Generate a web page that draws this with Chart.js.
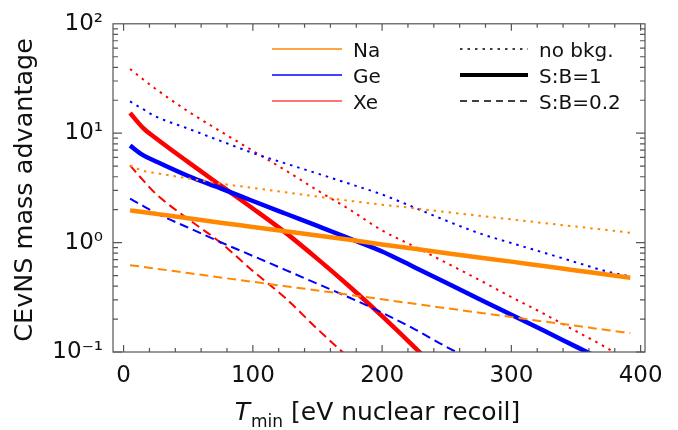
<!DOCTYPE html>
<html>
<head>
<meta charset="utf-8">
<script src="https://cdn.jsdelivr.net/npm/chart.js@4.4.1/dist/chart.umd.min.js"></script>
<style>
  html, body { margin: 0; padding: 0; background: #fff; }
  #wrap { width: 678px; height: 430px; }
</style>
</head>
<body>
<div id="wrap"><canvas id="cevns"></canvas></div>
<script>
// recoil threshold T_min [eV]
const tMin = [5, 15, 25, 50, 75, 100, 125, 150, 175, 200, 225, 250, 275, 300, 325, 350, 375, 392];

// mass advantage
const naNoBkg = [5.08, 4.53, 4.32, 3.86, 3.46, 3.16, 2.89, 2.63, 2.41, 2.22, 2.06, 1.9, 1.76, 1.63, 1.51, 1.4, 1.3, 1.23];
const naSB1   = [1.97, 1.9, 1.83, 1.67, 1.52, 1.39, 1.27, 1.16, 1.06, 0.96, 0.88, 0.80, 0.73, 0.67, 0.61, 0.557, 0.508, 0.478];
const naSB02  = [0.622, 0.6, 0.578, 0.527, 0.48, 0.438, 0.4, 0.365, 0.333, 0.303, 0.276, 0.251, 0.229, 0.209, 0.19, 0.174, 0.158, 0.149];

const geNoBkg = [19.5, 16.6, 14.2, 11.0, 8.5, 6.6, 5.3, 4.28, 3.44, 2.75, 2.09, 1.58, 1.22, 0.99, 0.81, 0.66, 0.54, 0.49];
const geSB1   = [7.7, 6.3, 5.52, 4.06, 3.13, 2.4, 1.845, 1.42, 1.09, 0.83, 0.596, 0.427, 0.305, 0.219, 0.157, 0.112, 0.08, null];
const geSB02  = [2.52, 2.17, 1.86, 1.37, 1.01, 0.755, 0.564, 0.42, 0.313, 0.229, 0.162, 0.111, 0.079, null, null, null, null, null];

const xeNoBkg = [38.6, 31.1, 25.3, 15.8, 10.4, 6.9, 4.6, 3.0, 2.0, 1.29, 0.92, 0.65, 0.457, 0.318, 0.224, 0.155, 0.107, 0.08];
const xeSB1   = [15.3, 11.2, 9.0, 5.44, 3.33, 2.05, 1.24, 0.71, 0.395, 0.213, 0.111, 0.056, null, null, null, null, null, null];
const xeSB02  = [5.08, 3.72, 2.79, 1.64, 1.0, 0.55, 0.313, 0.162, 0.087, null, null, null, null, null, null, null, null, null];

const xTicks = [0, 100, 200, 300, 400];
const yTicks = [0.1, 1, 10, 100];
const yTickLabels = ['10\u207B\u00B9', '10\u2070', '10\u00B9', '10\u00B2'];

const ORANGE = 'rgb(255,136,0)';
const BLUE = 'rgb(0,0,255)';
const RED = 'rgb(255,0,0)';
const DOT = [2.5, 5];
const DASH = [9, 5];
const FONT = "'DejaVu Sans', sans-serif";

function series(label, values, color, kind) {
  return {
    label: label,
    data: tMin.map((t, i) => ({ x: t, y: values[i] })),
    borderColor: color,
    borderWidth: kind === 'solid' ? 4.5 : 2,
    borderDash: kind === 'dot' ? DOT : (kind === 'dash' ? DASH : []),
    pointRadius: 0,
    fill: false,
    spanGaps: false,
    cubicInterpolationMode: 'monotone'
  };
}

// frame, inward ticks, axis titles and the two-column key
const decor = {
  id: 'decor',
  afterDraw(chart) {
    const { ctx, chartArea: { left, right, top, bottom }, scales: { x, y } } = chart;
    ctx.save();
    ctx.strokeStyle = '#555';
    ctx.lineWidth = 1.2;
    ctx.setLineDash([]);
    ctx.strokeRect(left, top, right - left, bottom - top);

    ctx.beginPath();
    for (let v = 0; v <= 400; v += 20) {
      const px = x.getPixelForValue(v);
      const len = v % 100 === 0 ? 7 : 4;
      ctx.moveTo(px, bottom); ctx.lineTo(px, bottom - len);
      ctx.moveTo(px, top); ctx.lineTo(px, top + len);
    }
    for (let d = -1; d <= 1; d++) {
      for (let m = 1; m <= 9; m++) {
        const py = y.getPixelForValue(m * Math.pow(10, d));
        const len = m === 1 ? 9 : 5;
        ctx.moveTo(left, py); ctx.lineTo(left + len, py);
        ctx.moveTo(right, py); ctx.lineTo(right - len, py);
      }
    }
    ctx.stroke();

    // axis titles
    ctx.fillStyle = '#111';
    ctx.textBaseline = 'alphabetic';
    ctx.textAlign = 'left';
    const big = '25px ' + FONT;
    const it = 'italic 25px ' + FONT;
    const sub = '17px ' + FONT;
    const rest = ' [eV nuclear recoil]';
    ctx.font = it; const wT = ctx.measureText('T').width;
    ctx.font = sub; const wS = ctx.measureText('min').width;
    ctx.font = big; const wR = ctx.measureText(rest).width;
    let tx = (left + right) / 2 - (wT + wS + wR) / 2 - 2;
    const ty = 420;
    ctx.font = it; ctx.fillText('T', tx, ty); tx += wT + 1;
    ctx.font = sub; ctx.fillText('min', tx, ty + 7); tx += wS;
    ctx.font = big; ctx.fillText(rest, tx, ty);

    ctx.save();
    ctx.translate(32, (top + bottom) / 2 + 2);
    ctx.rotate(-Math.PI / 2);
    ctx.textAlign = 'center';
    ctx.font = '25.5px ' + FONT;
    ctx.fillText('CEvNS mass advantage', 0, 0);
    ctx.restore();

    // key
    const rows = [49, 75, 101];
    const leftKey = [
      ['Na', ORANGE, 1.3],
      ['Ge', BLUE, 1.3],
      ['Xe', 'rgba(255,0,0,0.55)', 2.2]
    ];
    const rightKey = [
      ['no bkg.', 1.4, DOT],
      ['S:B=1', 4, []],
      ['S:B=0.2', 1.5, [7, 5]]
    ];
    ctx.font = '20px ' + FONT;
    leftKey.forEach((k, i) => {
      ctx.beginPath();
      ctx.strokeStyle = k[1]; ctx.lineWidth = k[2]; ctx.setLineDash([]);
      ctx.moveTo(272, rows[i]); ctx.lineTo(342, rows[i]); ctx.stroke();
      ctx.fillStyle = '#111';
      ctx.fillText(k[0], 353, rows[i] + 7.5);
    });
    rightKey.forEach((k, i) => {
      ctx.beginPath();
      ctx.strokeStyle = '#000'; ctx.lineWidth = k[1]; ctx.setLineDash(k[2]);
      ctx.moveTo(460, rows[i]); ctx.lineTo(528, rows[i]); ctx.stroke();
      ctx.setLineDash([]);
      ctx.fillStyle = '#111';
      ctx.fillText(k[0], 539, rows[i] + 7.5);
    });
    ctx.restore();
  }
};

new Chart(document.getElementById('cevns'), {
  type: 'line',
  data: {
    datasets: [
      series('Na no bkg.', naNoBkg, ORANGE, 'dot'),
      series('Na S:B=1', naSB1, ORANGE, 'solid'),
      series('Na S:B=0.2', naSB02, ORANGE, 'dash'),
      series('Ge no bkg.', geNoBkg, BLUE, 'dot'),
      series('Ge S:B=1', geSB1, BLUE, 'solid'),
      series('Ge S:B=0.2', geSB02, BLUE, 'dash'),
      series('Xe no bkg.', xeNoBkg, RED, 'dot'),
      series('Xe S:B=1', xeSB1, RED, 'solid'),
      series('Xe S:B=0.2', xeSB02, RED, 'dash')
    ]
  },
  options: {
    responsive: true,
    maintainAspectRatio: false,
    animation: false,
    devicePixelRatio: 1,
    layout: { padding: { left: 0, right: 33, top: 23, bottom: 0 } },
    plugins: {
      legend: { display: false },
      tooltip: { enabled: false }
    },
    scales: {
      x: {
        type: 'linear',
        min: -8.2,
        max: 403.4,
        grid: { display: false, drawTicks: false },
        border: { display: false },
        afterBuildTicks: (axis) => { axis.ticks = xTicks.map(v => ({ value: v })); },
        afterFit: (axis) => { axis.height = 78; },
        ticks: {
          padding: 10,
          color: '#111',
          font: { family: FONT, size: 23 },
          maxRotation: 0,
          callback: (v) => String(v)
        }
      },
      y: {
        type: 'logarithmic',
        min: 0.1,
        max: 100,
        grid: { display: false, drawTicks: false },
        border: { display: false },
        afterBuildTicks: (axis) => { axis.ticks = yTicks.map(v => ({ value: v })); },
        afterFit: (axis) => { axis.width = 113; },
        ticks: {
          padding: 10,
          color: '#111',
          font: { family: FONT, size: 23 },
          callback: (v, i) => yTickLabels[i]
        }
      }
    }
  },
  plugins: [decor]
});
</script>
</body>
</html>
